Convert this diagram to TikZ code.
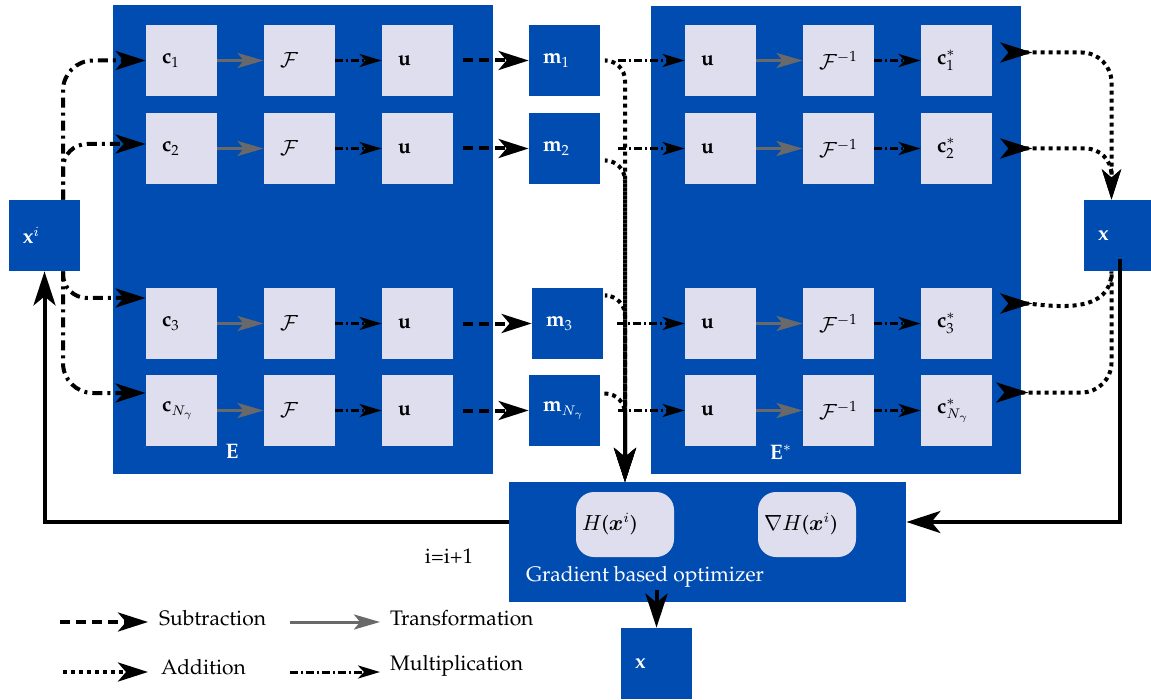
\documentclass[tikz,border=0pt]{standalone}
\usepackage[T1]{fontenc}
\usepackage{palatino}
\usepackage{amsmath}
\DeclareSymbolFont{operators}{T1}{ppl}{m}{n}
\SetSymbolFont{operators}{bold}{T1}{ppl}{b}{n}
\DeclareMathAlphabet{\mathbf}{T1}{ppl}{b}{n}
\usetikzlibrary{arrows.meta}
\definecolor{boxblue}{RGB}{0,76,177}
\definecolor{boxgrey}{RGB}{222,222,238}
\definecolor{arrgrey}{RGB}{105,105,105}

\begin{document}
\begin{tikzpicture}[x=0.5pt, y=-0.5pt, font=\fontsize{10.5}{12}\selectfont,
    big/.style={fill=boxblue, inner sep=0pt},
    cell/.style={fill=boxgrey, minimum size=35.5pt, inner sep=8pt, text width=19.5pt, align=left},
    blk/.style={fill=boxblue, text=white, minimum size=35.5pt, inner sep=7pt, text width=21.5pt, align=left},
    pill/.style={fill=boxgrey, rounded corners=9pt, minimum height=32.5pt, inner sep=3pt, text width=43pt, align=left},
    tip/.style={-{Stealth[length=15pt, width=9.5pt, inset=4pt]}},
    bigtip/.style={-{Stealth[length=17pt, width=11pt, inset=4.5pt]}},
    smalltip/.style={-{Stealth[length=11pt, width=6.5pt, inset=3pt]}},
    subtr/.style={line width=2pt, dash pattern=on 5pt off 3pt, tip},
    addit/.style={line width=2pt, dash pattern=on 2pt off 2pt, tip},
    multi/.style={line width=2pt, dash pattern=on 5pt off 2.5pt on 1.5pt off 2.5pt, tip},
    thinmulti/.style={line width=1.5pt, dash pattern=on 4pt off 1.5pt on 1pt off 1.5pt, smalltip},
    transf/.style={line width=1.5pt, arrgrey, -{Stealth[length=13pt, width=7.5pt, inset=3pt]}},
    feed/.style={line width=2pt, bigtip}]
  \useasboundingbox (0,0) rectangle (1151,700);

  % encoder and decoder blocks
  \node[big, minimum width=190pt, minimum height=234.5pt] (enc) at (303,239.5) {};
  \node[big, minimum width=185pt, minimum height=234pt] (dec) at (836,240) {};
  \node[text=white] (enclab) at (232,452) {\textbf{E}};
  \node[text=white] (declab) at (781,452) {$\mathbf{E}^*$};

  % encoder cells
  \node[cell] (c1) at (181.5,60.5) {$\mathbf{c}_1$};
  \node[cell] (c2) at (181.5,148.5) {$\mathbf{c}_2$};
  \node[cell] (c3) at (181.5,323.5) {$\mathbf{c}_3$};
  \node[cell] (c4) at (181.5,410.5) {$\mathbf{c}_{N_\gamma}$};
  \node[cell] (f1) at (299.5,60.5) {$\mathcal{F}$};
  \node[cell] (f2) at (299.5,148.5) {$\mathcal{F}$};
  \node[cell] (f3) at (299.5,323.5) {$\mathcal{F}$};
  \node[cell] (f4) at (299.5,410.5) {$\mathcal{F}$};
  \node[cell] (u1) at (417.5,60.5) {$\mathbf{u}$};
  \node[cell] (u2) at (417.5,148.5) {$\mathbf{u}$};
  \node[cell] (u3) at (417.5,323.5) {$\mathbf{u}$};
  \node[cell] (u4) at (417.5,410.5) {$\mathbf{u}$};

  % measurements
  \node[blk] (m1) at (564.5,60.5) {$\mathbf{m}_1$};
  \node[blk] (m2) at (564.5,148.5) {$\mathbf{m}_2$};
  \node[blk] (m3) at (567.5,323.5) {$\mathbf{m}_3$};
  \node[blk] (m4) at (564.5,410.5) {$\mathbf{m}_{N_\gamma}$};

  % decoder cells
  \node[cell] (v1) at (720.5,60.5) {$\mathbf{u}$};
  \node[cell] (v2) at (720.5,148.5) {$\mathbf{u}$};
  \node[cell] (v3) at (720.5,323.5) {$\mathbf{u}$};
  \node[cell] (v4) at (720.5,410.5) {$\mathbf{u}$};
  \node[cell] (g1) at (838.5,60.5) {$\mathcal{F}^{-1}$};
  \node[cell] (g2) at (838.5,148.5) {$\mathcal{F}^{-1}$};
  \node[cell] (g3) at (838.5,323.5) {$\mathcal{F}^{-1}$};
  \node[cell] (g4) at (838.5,410.5) {$\mathcal{F}^{-1}$};
  \node[cell] (d1) at (956.5,60.5) {$\mathbf{c}^*_1$};
  \node[cell] (d2) at (956.5,148.5) {$\mathbf{c}^*_2$};
  \node[cell] (d3) at (956.5,323.5) {$\mathbf{c}^*_3$};
  \node[cell] (d4) at (956.5,410.5) {$\mathbf{c}^*_{N_\gamma}$};

  % inputs, outputs, optimizer
  \node[blk] (xi) at (44.5,235.5) {$\mathbf{x}^i$};
  \node[blk] (xr) at (1119.5,235.5) {$\mathbf{x}$};
  \node[blk] (xb) at (656.5,663.5) {$\mathbf{x}$};
  \node[big, minimum width=198.5pt, minimum height=60pt] (opt) at (707.5,542) {};
  \node[pill] (cost) at (625,524.5) {$H(\boldsymbol{x}^i)$};
  \node[pill] (grad) at (807,524.5) {$\nabla H(\boldsymbol{x}^i)$};
  \node[text=white, anchor=west] (optlab) at (519,577) {Gradient based optimizer};
  \node (iter) at (449,556) {i=i+1};
  \coordinate (sink) at (625,482);

  % x^i to the cells
  \draw[multi, rounded corners=15pt] ([xshift=9.25pt]xi.north) |- ([yshift=0pt]c1.west);
  \draw[multi, rounded corners=12pt] ([xshift=9.25pt]xi.north) |- ([yshift=2.25pt]c2.west);
  \draw[multi, rounded corners=12pt] ([xshift=9.25pt]xi.south) |- ([yshift=12.75pt]c3.west);
  \draw[multi, rounded corners=15pt] ([xshift=9.25pt]xi.south) |- ([yshift=8.75pt]c4.west);

  % encoder rows
  \draw[transf] (c1) -- (f1);
  \draw[transf] (c2) -- (f2);
  \draw[transf] (c3) -- (f3);
  \draw[transf] (c4) -- (f4);
  \draw[thinmulti] (f1) -- (u1);
  \draw[thinmulti] (f2) -- (u2);
  \draw[thinmulti] (f3) -- (u3);
  \draw[thinmulti] (f4) -- (u4);
  \draw[subtr, shorten <=5pt] (u1) -- (m1);
  \draw[subtr, shorten <=5pt] (u2) -- (m2);
  \draw[subtr, shorten <=5pt] (u3) -- (m3);
  \draw[subtr, shorten <=5pt] (u4) -- (m4);

  % measurements to decoder and optimizer
  \draw[thinmulti, shorten <=9pt] (m1) -- (v1);
  \draw[thinmulti, shorten <=9pt] (m2) -- (v2);
  \draw[thinmulti, shorten <=7pt] (m3) -- (v3);
  \draw[thinmulti, shorten <=9pt] (m4) -- (v4);
  \draw[addit, bigtip, rounded corners=10pt, shorten <=3pt] (m1.east) -| (sink);
  \draw[addit, bigtip, rounded corners=10pt, shorten <=3pt] ([yshift=-6pt]m2.east) -| (sink);
  \draw[addit, bigtip, rounded corners=10pt, shorten <=2pt] ([yshift=14pt]m3.east) -| (sink);
  \draw[addit, bigtip, rounded corners=10pt, shorten <=2pt] ([yshift=8.5pt]m4.east) -| (sink);

  % decoder rows
  \draw[transf] (v1) -- (g1);
  \draw[transf] (v2) -- (g2);
  \draw[transf] (v3) -- (g3);
  \draw[transf] (v4) -- (g4);
  \draw[thinmulti] (g1) -- (d1);
  \draw[thinmulti] (g2) -- (d2);
  \draw[thinmulti] (g3) -- (d3);
  \draw[thinmulti] (g4) -- (d4);

  % decoder cells to x
  \draw[addit, {Stealth[reversed, length=16pt, width=10pt, inset=4pt]}-{Stealth[length=15pt, width=9.5pt, inset=4pt]}, rounded corners=15pt, shorten <=4pt] ([yshift=4pt]d1.east) -| ([xshift=-4pt]xr.north);
  \draw[addit, {Stealth[reversed, length=16pt, width=10pt, inset=4pt]}-{Stealth[length=15pt, width=9.5pt, inset=4pt]}, rounded corners=13pt, shorten <=4pt] (d2.east) -| ([xshift=-4pt]xr.north);
  \draw[addit, {Stealth[reversed, length=16pt, width=10pt, inset=4pt]}-, shorten <=4pt] ([yshift=10pt]d3.east) to[out=0, in=-90] ([xshift=-4pt]xr.south);
  \draw[addit, {Stealth[reversed, length=16pt, width=10pt, inset=4pt]}-, rounded corners=15pt, shorten <=2pt] ([yshift=9pt]d4.east) -| ([xshift=-4pt]xr.south);

  % feedback loop
  \draw[feed] ([yshift=10pt]opt.west) -| (xi.south);
  \draw[feed] ([yshift=6pt]xr.south) |- ([yshift=10pt]opt.east);
  \draw[feed] ([yshift=6pt]opt.south -| xb.north) -- (xb.north);

  % legend
  \node[anchor=west] (tsub) at (152,618) {Subtraction};
  \node[anchor=west] (ttra) at (383,618) {Transformation};
  \node[anchor=west] (tadd) at (154,667) {Addition};
  \node[anchor=west] (tmul) at (383,666) {Multiplication};
  \coordinate (lsub) at (60,622);
  \coordinate (ltra) at (290,622);
  \coordinate (ladd) at (63,672);
  \coordinate (lmul) at (290,672);
  \draw[subtr] (lsub) -- (148,622);
  \draw[transf] (ltra) -- (380,622);
  \draw[addit] (ladd) -- (148,672);
  \draw[thinmulti] (lmul) -- (380,672);
\end{tikzpicture}
\end{document}
